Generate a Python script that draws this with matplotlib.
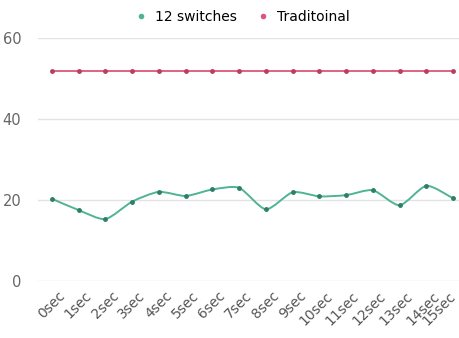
import matplotlib.pyplot as plt
from matplotlib.path import Path
from matplotlib.patches import PathPatch
from matplotlib.lines import Line2D
import matplotlib.transforms as mtransforms
import numpy as np

labels = ['0sec', '1sec', '2sec', '3sec', '4sec', '5sec', '6sec', '7sec',
          '8sec', '9sec', '10sec', '11sec', '12sec', '13sec', '14sec', '15sec']
switches = [20.3, 17.5, 15.3, 19.6, 22.0, 21.0, 22.6, 23.0,
            17.7, 21.9, 20.9, 21.2, 22.4, 18.7, 23.5, 20.4]
traditional = [51.8] * 16

green = '#4fb396'
pink = '#d9577a'

fig = plt.figure(figsize=(4.59, 3.38), dpi=100)
ax = fig.add_axes([38 / 459, 1 - 281 / 338, 421 / 459, 243 / 338])

x = np.arange(len(labels))


def smooth_path(xs, ys, t=0.12):
    # cubic bezier through the points (catmull-rom style handles)
    verts = [(xs[0], ys[0])]
    codes = [Path.MOVETO]
    n = len(xs)
    for i in range(n - 1):
        p0 = (xs[max(i - 1, 0)], ys[max(i - 1, 0)])
        p1 = (xs[i], ys[i])
        p2 = (xs[i + 1], ys[i + 1])
        p3 = (xs[min(i + 2, n - 1)], ys[min(i + 2, n - 1)])
        c1 = (p1[0] + (p2[0] - p0[0]) * t, p1[1] + (p2[1] - p0[1]) * t)
        c2 = (p2[0] - (p3[0] - p1[0]) * t, p2[1] - (p3[1] - p1[1]) * t)
        verts += [c1, c2, p2]
        codes += [Path.CURVE4] * 3
    return Path(verts, codes)


ax.add_patch(PathPatch(smooth_path(x, switches), fill=False, edgecolor=green, lw=1.4, zorder=3))
ax.plot(x, switches, 'o', color='#2f7f68', ms=2.5, zorder=4)
ax.plot(x, traditional, '-', color=pink, lw=1.3, zorder=3)
ax.plot(x, traditional, 'o', color='#b8405f', ms=2.5, zorder=4)

ax.set_xlim(-0.52, 15.22)
ax.set_ylim(0, 60)
ax.set_yticks([0, 20, 40, 60])
ax.set_xticks(x)
ax.set_xticklabels([])

# rotated category labels, nudged right of each tick; the last one kept inside
base = mtransforms.blended_transform_factory(ax.transData, ax.transAxes)
for i, lab in enumerate(labels):
    dx = 6 if i < len(labels) - 1 else -5
    off = mtransforms.ScaledTranslation(dx / 100, -8 / 100, fig.dpi_scale_trans)
    ax.text(x[i], 0, lab, transform=base + off, rotation=45, ha='right', va='top',
            rotation_mode='anchor', fontsize=10, color='#555555', clip_on=False)

ax.tick_params(axis='y', labelsize=10.5, labelcolor='#666666', length=0, pad=12)
ax.tick_params(axis='x', length=0)
ax.grid(axis='y', color='#e3e3e3', lw=1)
ax.set_axisbelow(True)
for s in ax.spines.values():
    s.set_visible(False)

handles = [Line2D([], [], ls='none', marker='o', ms=3, color=green),
           Line2D([], [], ls='none', marker='o', ms=3, color=pink)]
fig.legend(handles, ['12 switches', 'Traditoinal'], loc='upper center',
           bbox_to_anchor=(0.52, 1.0), ncol=2, frameon=False, fontsize=10,
           handletextpad=0.0, columnspacing=0.9, borderaxespad=0.3)

fig.savefig('out.png', dpi=100, facecolor='white')
